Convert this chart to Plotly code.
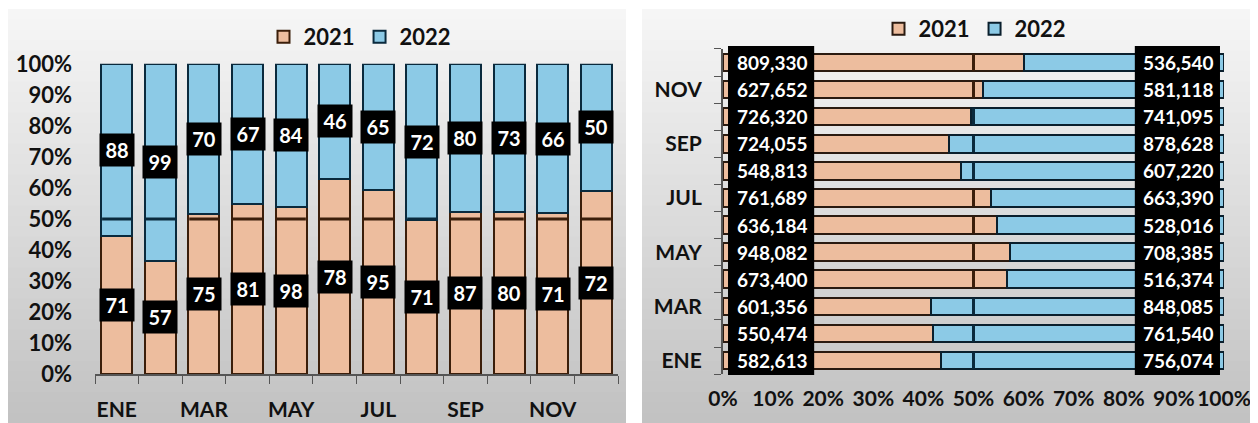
import plotly.graph_objects as go
from plotly.subplots import make_subplots

months = ["ENE", "FEB", "MAR", "ABR", "MAY", "JUN", "JUL", "AGO", "SEP", "OCT", "NOV", "DIC"]
month_ticks = ["ENE", "", "MAR", "", "MAY", "", "JUL", "", "SEP", "", "NOV", ""]

# left panel: counts per month
cnt_2021 = [71, 57, 75, 81, 98, 78, 95, 71, 87, 80, 71, 72]
cnt_2022 = [88, 99, 70, 67, 84, 46, 65, 72, 80, 73, 66, 50]

# right panel: amounts per month
amt_2021 = [582613, 550474, 601356, 673400, 948082, 636184, 761689, 548813, 724055, 726320, 627652, 809330]
amt_2022 = [756074, 761540, 848085, 516374, 708385, 528016, 663390, 607220, 878628, 741095, 581118, 536540]

PEACH = "#EDBD9E"
BLUE = "#8CCAE6"
PEACH_EDGE = "#3B1E0A"
BLUE_EDGE = "#0A2A3D"
FONT = "Lato"

# page body adds an 8px offset, so the figure is drawn 8px in from the top-left
W, H = 1250, 415


def px(X):
    return (X - 8) / W


def py(Y):
    return 1 - (Y - 8) / H


share_cnt = [a / (a + b) for a, b in zip(cnt_2021, cnt_2022)]
share_amt = [a / (a + b) for a, b in zip(amt_2021, amt_2022)]

fig = make_subplots(rows=1, cols=2)

# left: vertical 100% stacked
fig.add_trace(go.Bar(x=months, y=cnt_2021, name="2021", marker=dict(color=PEACH, line=dict(color=PEACH_EDGE, width=2)),
                     width=0.71, legend="legend", hoverinfo="skip"), row=1, col=1)
fig.add_trace(go.Bar(x=months, y=cnt_2022, name="2022", marker=dict(color=BLUE, line=dict(color=BLUE_EDGE, width=2)),
                     width=0.71, legend="legend", hoverinfo="skip"), row=1, col=1)
fig.add_trace(go.Scatter(x=months, y=[0.5] * 12, mode="markers", showlegend=False, hoverinfo="skip",
                         marker=dict(symbol="line-ew", size=21,
                                     line=dict(width=3, color=[PEACH_EDGE if s > 0.5 else BLUE_EDGE for s in share_cnt]))),
              row=1, col=1)

# right: horizontal 100% stacked
fig.add_trace(go.Bar(y=months, x=amt_2021, name="2021", orientation="h",
                     marker=dict(color=PEACH, line=dict(color="#2a1a10", width=2)),
                     width=0.65, legend="legend2", hoverinfo="skip"), row=1, col=2)
fig.add_trace(go.Bar(y=months, x=amt_2022, name="2022", orientation="h",
                     marker=dict(color=BLUE, line=dict(color="#0a1f2d", width=2)),
                     width=0.65, legend="legend2", hoverinfo="skip"), row=1, col=2)
fig.add_trace(go.Scatter(y=months, x=[0.5] * 12, mode="markers", showlegend=False, hoverinfo="skip",
                         marker=dict(symbol="line-ns", size=12,
                                     line=dict(width=3, color=[PEACH_EDGE if s > 0.5 else BLUE_EDGE for s in share_amt]))),
              row=1, col=2)

# panel backgrounds (vertical gradient strips)
shapes = []
steps = 40
top_c, bot_c = (246, 246, 246), (194, 194, 194)
for x0, x1 in [(px(8), px(626)), (px(642), 1.0)]:
    for k in range(steps):
        t = k / (steps - 1)
        c = tuple(int(top_c[j] + (bot_c[j] - top_c[j]) * t) for j in range(3))
        ya = 1 - k / steps
        yb = 1 - (k + 1) / steps
        shapes.append(dict(type="rect", xref="paper", yref="paper", x0=x0, x1=x1, y0=yb - 0.002, y1=ya,
                           fillcolor=f"rgb{c}", line=dict(width=0), layer="below"))

# black label columns on the right panel
for x0, x1 in [(0.01, 0.182), (0.822, 0.992)]:
    shapes.append(dict(type="rect", xref="x2", yref="paper", x0=x0, x1=x1, y0=py(375), y1=py(45),
                       fillcolor="black", line=dict(width=0), layer="above"))

annotations = []
for m, a, b, s in zip(months, cnt_2021, cnt_2022, share_cnt):
    for val, ypos in [(a, s / 2), (b, s + (1 - s) / 2)]:
        annotations.append(dict(x=m, y=ypos, xref="x", yref="y", text=str(val), showarrow=False,
                                bgcolor="black", width=32, height=30,
                                font=dict(family=FONT, size=20, color="white", weight="bold")))
for m, a, b in zip(months, amt_2021, amt_2022):
    for val, xpos in [(a, 0.098), (b, 0.91)]:
        annotations.append(dict(x=xpos, y=m, xref="x2", yref="y2", text=f"{val:,}", showarrow=False,
                                font=dict(family=FONT, size=19, color="white", weight="bold")))

axis_font = dict(family=FONT, size=21, color="#111", weight="bold")
leg_font = dict(family=FONT, size=22, color="#111", weight="bold")

fig.update_layout(
    width=W, height=H,
    margin=dict(l=0, r=0, t=0, b=0),
    barmode="stack", barnorm="fraction",
    paper_bgcolor="white", plot_bgcolor="rgba(0,0,0,0)",
    font=dict(family=FONT),
    shapes=shapes, annotations=annotations,
    legend=dict(orientation="h", x=px(360), y=py(37), xanchor="center", yanchor="middle", traceorder="normal",
                bgcolor="rgba(0,0,0,0)", font=leg_font),
    legend2=dict(orientation="h", x=px(975), y=py(28), xanchor="center", yanchor="middle", traceorder="normal",
                 bgcolor="rgba(0,0,0,0)", font=leg_font),
    xaxis=dict(domain=[px(95), px(618)], range=[-0.5, 11.5], tickmode="array", tickvals=months,
               ticktext=month_ticks, tickson="boundaries", ticks="outside", ticklen=8, tickcolor="#555",
               showline=True, linecolor="#555", linewidth=2, tickfont=axis_font, tickangle=0,
               ticklabelstandoff=16, automargin=False, showgrid=False, zeroline=False),
    yaxis=dict(domain=[py(374), py(63)], range=[0, 1], dtick=0.1, tickformat=".0%",
               tickfont=dict(family=FONT, size=22, color="#111", weight="bold"), showgrid=False,
               ticklabelstandoff=22, zeroline=False, showline=False, ticks="", automargin=False),
    xaxis2=dict(domain=[px(723), px(1224)], range=[0, 1], dtick=0.1, tickformat=".0%",
                tickfont=axis_font, tickangle=0, automargin=False, ticklabelstandoff=10,
                showgrid=False, zeroline=False, showline=False, ticks=""),
    yaxis2=dict(domain=[py(374), py(48)], range=[-0.5, 11.5], tickmode="array", tickvals=months,
                ticktext=month_ticks, tickson="boundaries", ticks="outside", ticklen=7, tickcolor="#555",
                showline=True, linecolor="#555", linewidth=2, tickfont=axis_font, automargin=False,
                ticklabelstandoff=15, showgrid=False, zeroline=False),
)

fig.write_html("out.html")
